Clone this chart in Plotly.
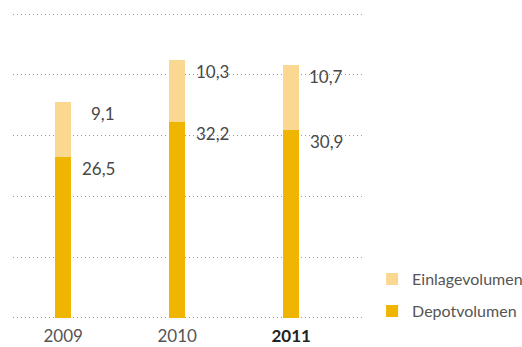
import plotly.graph_objects as go

years = ["2009", "2010", "2011"]
tick_labels = ["2009", "2010", "<b style='color:#222'>2011</b>"]
depot = [26.5, 32.2, 30.9]
einlage = [9.1, 10.3, 10.7]
depot_labels = ["26,5", "32,2", "30,9"]
einlage_labels = ["9,1", "10,3", "10,7"]

FONT = "Lato"
C_DEPOT = "#F0B500"
C_EIN = "#FAD891"

xpos = list(range(len(years)))

fig = go.Figure()
fig.add_trace(go.Bar(x=xpos, y=depot, name="Depotvolumen", marker_color=C_DEPOT,
                     width=0.14, marker_line_width=0, legendgroup="d", legendrank=2))
fig.add_trace(go.Bar(x=xpos, y=einlage, name="Einlagevolumen", marker_color=C_EIN,
                     width=0.14, marker_line_width=0, legendgroup="e", legendrank=1))

for i in xpos:
    fig.add_annotation(x=i + 0.47, y=depot[i], text=depot_labels[i], showarrow=False,
                       xanchor="right", yanchor="top", yshift=1,
                       font=dict(family=FONT, size=17, color="#484848"))
    fig.add_annotation(x=i + 0.47, y=depot[i] + einlage[i], text=einlage_labels[i], showarrow=False,
                       xanchor="right", yanchor="top", yshift=1,
                       font=dict(family=FONT, size=17, color="#484848"))

fig.update_layout(
    width=522, height=347,
    margin=dict(l=13, r=159, t=13, b=28, autoexpand=False),
    barmode="stack",
    plot_bgcolor="white", paper_bgcolor="white",
    font=dict(family=FONT, size=17, color="#555"),
    showlegend=True,
    legend=dict(x=1.026, xanchor="left", y=-0.03, yanchor="bottom",
                traceorder="grouped", tracegroupgap=8,
                font=dict(family=FONT, size=16, color="#555"),
                bgcolor="rgba(0,0,0,0)"),
    xaxis=dict(range=[-0.44, 2.63], tickvals=xpos, ticktext=tick_labels,
               showgrid=False, zeroline=False, showline=False, ticks="",
               ticklabelstandoff=5,
               tickfont=dict(family=FONT, size=17, color="#555")),
    yaxis=dict(range=[-0.2, 50.2], tick0=0, dtick=10, showticklabels=False, showgrid=True,
               gridcolor="#9a9a9a", griddash="1px,3px", gridwidth=1,
               zeroline=False, showline=False, ticks=""),
)

fig.write_html("out.html")
